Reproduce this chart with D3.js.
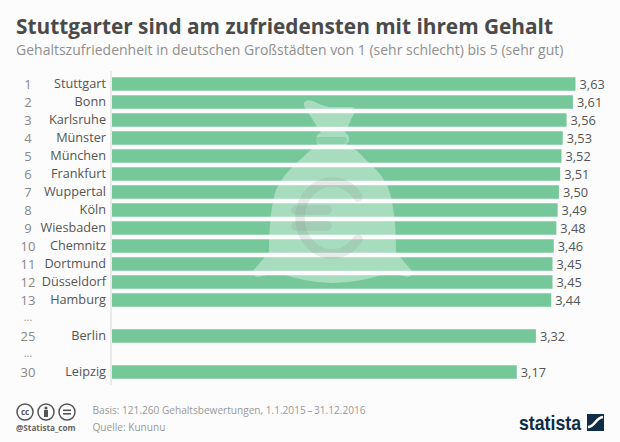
<!DOCTYPE html>
<html>
<head>
<meta charset="utf-8">
<script src="https://cdn.jsdelivr.net/npm/d3@7"></script>
<style>
  html, body { margin: 0; padding: 0; background: #fcfcfc; }
  text { font-family: "Open Sans", sans-serif; }
</style>
</head>
<body>
<div id="chart"></div>
<script>
// null rows are the "..." gaps in the ranking
const ranks = ["1", "2", "3", "4", "5", "6", "7", "8", "9", "10", "11", "12", "13", "...", "25", "...", "30"];
const cities = ["Stuttgart", "Bonn", "Karlsruhe", "Münster", "München", "Frankfurt", "Wuppertal", "Köln", "Wiesbaden", "Chemnitz", "Dortmund", "Düsseldorf", "Hamburg", "", "Berlin", "", "Leipzig"];
const values = [3.63, 3.61, 3.56, 3.53, 3.52, 3.51, 3.50, 3.49, 3.48, 3.46, 3.45, 3.45, 3.44, null, 3.32, null, 3.17];

const width = 620, height = 442;
const rows = d3.range(ranks.length);

const svg = d3.select("#chart").append("svg")
  .attr("width", width)
  .attr("height", height)
  .style("display", "block");

svg.append("rect").attr("width", width).attr("height", height).attr("fill", "#fcfcfc");

svg.append("text")
  .attr("x", 16).attr("y", 34)
  .attr("font-size", 20.8).attr("font-weight", 700).attr("fill", "#4a4a4a")
  .text("Stuttgarter sind am zufriedensten mit ihrem Gehalt");

svg.append("text")
  .attr("x", 16).attr("y", 55)
  .attr("font-size", 14).attr("fill", "#8f8f8f")
  .text("Gehaltszufriedenheit in deutschen Großstädten von 1 (sehr schlecht) bis 5 (sehr gut)");

const x = d3.scaleLinear().domain([0, 3.63]).range([112, 575.5]);
const y = d3.scaleBand().domain(rows).range([75, 381]).paddingInner(0.25).paddingOuter(0.125);

svg.selectAll(".bar")
  .data(rows.filter(i => values[i] !== null))
  .enter().append("rect")
  .attr("class", "bar")
  .attr("x", x(0))
  .attr("y", i => y(i))
  .attr("width", i => x(values[i]) - x(0))
  .attr("height", y.bandwidth())
  .attr("fill", "#76c89b");

// baseline and city names
const axis = svg.append("g")
  .attr("transform", `translate(${x(0) - 1},0)`)
  .call(d3.axisLeft(y).tickSize(0).tickPadding(5).tickFormat(i => cities[i]));
axis.select(".domain").attr("stroke", "#d8d8d8").attr("stroke-width", 1).attr("d", "M0,71V385");
axis.selectAll("text")
  .style("font-family", '"Open Sans", sans-serif')
  .attr("font-size", 12.7).attr("fill", "#555");

svg.selectAll(".rank")
  .data(rows)
  .enter().append("text")
  .attr("class", "rank")
  .attr("x", 28)
  .attr("y", i => y(i) + y.bandwidth() / 2 + (ranks[i] === "..." ? 3 : 4.5))
  .attr("text-anchor", "middle")
  .attr("font-size", i => ranks[i] === "..." ? 10.5 : 13)
  .attr("fill", "#888")
  .text(i => ranks[i]);

svg.selectAll(".value")
  .data(rows.filter(i => values[i] !== null))
  .enter().append("text")
  .attr("class", "value")
  .attr("x", i => x(values[i]) + 4)
  .attr("y", i => y(i) + y.bandwidth() / 2 + 4.5)
  .attr("font-size", 12.8)
  .attr("fill", "#555")
  .text(i => values[i].toFixed(2).replace(".", ","));

// money bag
const bag = svg.append("g").attr("pointer-events", "none");
bag.append("path")
  .attr("d", "M304,103 Q306,99 313,101 Q322,106 330,107 L350,107 Q356,107 355,111 L345,133 Q349,134 349,139 Q349,143 346,144 Q358,150 364,158 Q384,175 389,190 Q396,212 396,252 L412,271 Q413,276 408,277 Q398,275 390,272 Q360,283 333,283 Q306,283 277,272 Q268,275 258,277 Q252,276 253,271 L269,252 Q269,212 276,190 Q282,175 302,158 Q310,150 318,144 Q316,143 316,139 Q316,134 321,133 L306,109 Q303,106 304,103 Z")
  .attr("fill", "#fff").attr("opacity", 0.36);
bag.append("path")
  .attr("d", "M316,137 L345,137 Q349,139 345,144 L320,144 Q314,141 316,137 Z")
  .attr("fill", "#76c89b").attr("opacity", 0.6);
const euro = bag.append("g")
  .attr("fill", "none").attr("stroke", "#888").attr("stroke-opacity", 0.17)
  .attr("stroke-width", 9.5).attr("stroke-linecap", "round");
euro.append("path").attr("d", "M358,197 A32,36 0 1 0 358,239");
euro.append("path").attr("d", "M296,210 H327");
euro.append("path").attr("d", "M296,226 H327");

// footer
const icons = svg.append("g")
  .attr("fill", "none").attr("stroke", "#555").attr("stroke-width", 1.5);
[25, 46, 67].forEach(cx => icons.append("circle").attr("cx", cx).attr("cy", 412).attr("r", 8));
svg.append("text").attr("x", 25).attr("y", 414.5).attr("text-anchor", "middle")
  .attr("font-size", 8).attr("font-weight", 700).attr("fill", "#555").text("cc");
svg.append("circle").attr("cx", 46).attr("cy", 408).attr("r", 1.6).attr("fill", "#555");
svg.append("rect").attr("x", 44).attr("y", 410).attr("width", 4).attr("height", 7).attr("fill", "#555");
svg.append("rect").attr("x", 63).attr("y", 409.5).attr("width", 8).attr("height", 1.6).attr("fill", "#555");
svg.append("rect").attr("x", 63).attr("y", 413).attr("width", 8).attr("height", 1.6).attr("fill", "#555");

svg.append("text").attr("x", 16).attr("y", 431)
  .attr("font-size", 8.2).attr("font-weight", 700).attr("fill", "#666").text("@Statista_com");

svg.append("text").attr("x", 92.5).attr("y", 414)
  .attr("font-size", 10.1).attr("fill", "#999").text("Basis: 121.260 Gehaltsbewertungen, 1.1.2015\u2009–\u200931.12.2016");
svg.append("text").attr("x", 92.5).attr("y", 431)
  .attr("font-size", 10.1).attr("fill", "#999").text("Quelle: Kununu");

// statista logo
svg.append("text").attr("x", 519).attr("y", 430)
  .style("font-family", '"Liberation Sans Narrow", "Liberation Sans", sans-serif')
  .attr("font-size", 21).attr("font-weight", 700).attr("fill", "#0f2d46")
  .attr("textLength", 62).attr("lengthAdjust", "spacingAndGlyphs")
  .text("statista");
svg.append("rect").attr("x", 587).attr("y", 414).attr("width", 17).attr("height", 17).attr("fill", "#0f2d46");
svg.append("path")
  .attr("d", "M588,427 C595,427 595,418 603,417")
  .attr("fill", "none").attr("stroke", "#fcfcfc").attr("stroke-width", 2.5);
</script>
</body>
</html>
